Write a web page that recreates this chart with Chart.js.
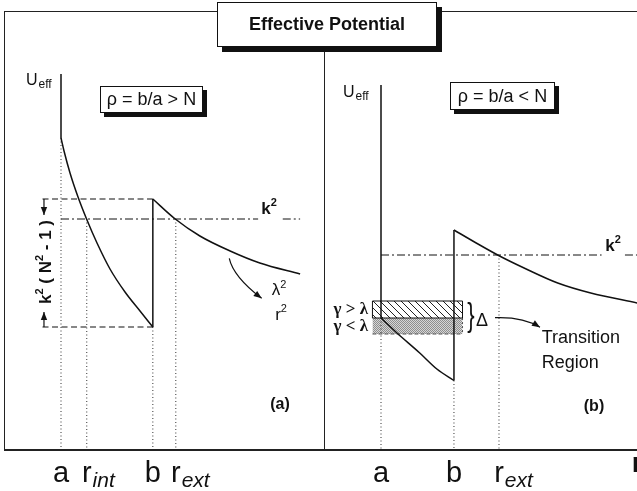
<!DOCTYPE html>
<html>
<head>
<meta charset="utf-8">
<script src="https://cdn.jsdelivr.net/npm/chart.js@4.4.1/dist/chart.umd.min.js"></script>
<style>
  html, body { margin: 0; padding: 0; background: #fff; }
  body { width: 637px; height: 491px; position: relative; overflow: hidden;
         font-family: 'Liberation Sans', Arial, Helvetica, sans-serif; color: #111; }
  canvas { position: absolute; top: 0; }
  #chartA { left: 5px; }
  #chartB { left: 324px; }
  .rule { position: absolute; background: #222; }
  .box { position: absolute; background: #fff; border: 1px solid #111; box-sizing: border-box;
         display: flex; align-items: center; justify-content: center; box-shadow: 4px 4px 0 #111; }
  #title { left: 217px; top: 2px; width: 220px; height: 45px; font-weight: bold; font-size: 18px;
           box-shadow: 5px 5px 0 #111; }
  .rho { font-size: 18px; }
</style>
</head>
<body>
<canvas id="chartA" width="319" height="491"></canvas>
<canvas id="chartB" width="313" height="491"></canvas>

<div class="rule" style="left:4px; top:11px; width:633px; height:1px"></div>
<div class="rule" style="left:4px; top:11px; width:1px; height:439px"></div>
<div class="rule" style="left:4px; top:449px; width:633px; height:2px"></div>
<div class="rule" style="left:324px; top:47px; width:1px; height:403px"></div>

<div id="title" class="box">Effective Potential</div>
<div class="box rho" style="left:100px; top:86px; width:103px; height:27px">ρ = b/a &gt; N</div>
<div class="box rho" style="left:450px; top:82px; width:105px; height:28px">ρ = b/a &lt; N</div>

<script>
// r is measured in units of a, U in arbitrary units (0 on the bottom axis)

// panel (a): rho = b/a > N
const tickNamesA = ['a', 'r', 'b', 'r'];
const tickSubsA = ['', 'int', '', 'ext'];
const tickValuesA = [1.0, 1.46, 2.64, 3.05];
const wallUA = [3.75, 3.11];
const innerRA = [1.0, 1.054, 1.161, 1.304, 1.464, 1.643, 1.875, 2.143, 2.411, 2.64];
const innerUA = [3.11, 2.98, 2.76, 2.52, 2.29, 2.06, 1.80, 1.57, 1.38, 1.22];
const outerRA = [2.64, 3.04, 3.48, 4.02, 4.55, 5.27];
const outerUA = [2.50, 2.30, 2.13, 1.98, 1.86, 1.75];
const k2A = 2.30;

// panel (b): rho = b/a < N
const tickNamesB = ['a', 'b', 'r'];
const tickSubsB = ['', '', 'ext'];
const tickValuesB = [1.0, 2.28, 3.07];
const wallUB = [3.64, 1.31];
const innerRB = [1.0, 1.28, 1.68, 1.98, 2.28];
const innerUB = [1.31, 1.16, 0.96, 0.80, 0.685];
const outerRB = [2.28, 2.64, 3.08, 3.51, 4.10, 4.68, 5.50];
const outerUB = [2.19, 2.07, 1.93, 1.81, 1.66, 1.56, 1.46];
const k2B = 1.94;
// transition region: hatched (gamma > lambda) over grey (gamma < lambda)
const bandR = [0.85, 2.43];
const bandU = [1.48, 1.31, 1.15];

const SANS = "'Liberation Sans', Arial, Helvetica, sans-serif";
const SERIF = "'Liberation Serif', 'Times New Roman', serif";
const INK = '#111';

function pairs(rs, us) {
  return rs.map((r, i) => ({ x: r, y: us[i] }));
}

function seg(points, style) {
  return Object.assign({
    data: points, showLine: true, borderColor: INK, borderWidth: 1.5,
    pointRadius: 0, fill: false, tension: 0
  }, style || {});
}

const dotted = { borderWidth: 1, borderColor: '#333', borderDash: [1, 2.5] };
const dashDot = { borderWidth: 1, borderDash: [8, 3, 2, 3] };
const dashed = { borderWidth: 1.2, borderDash: [6, 3.5] };
const smooth = { cubicInterpolationMode: 'monotone' };

// superscript run
const sup = (text, font, dy) => ({ text: text, font: font, dy: dy });

function tickNotes(names, subs, values) {
  return names.map((n, i) => ({
    x: values[i], y: -0.33, align: 'center', centerFirst: true, baseline: 'alphabetic',
    runs: [{ text: n, font: `29px ${SANS}` }, { text: subs[i], font: `italic 21px ${SANS}`, dy: 5, pre: 1 }]
  }));
}

function drawNote(ctx, px, py, t) {
  ctx.save();
  ctx.translate(px, py);
  if (t.rotate) ctx.rotate(t.rotate);
  if (t.scaleY) ctx.scale(1, t.scaleY);
  ctx.textBaseline = t.baseline || 'middle';
  ctx.textAlign = 'left';
  const runs = t.runs || [{ text: t.text, font: t.font }];
  const widths = runs.map(r => {
    ctx.font = r.font || t.font;
    return ctx.measureText(r.text).width + (r.pre || 0);
  });
  const total = widths.reduce((s, w) => s + w, 0);
  const ref = t.centerFirst ? widths[0] : total;
  let x = t.align === 'center' ? -ref / 2 : t.align === 'right' ? -total : 0;
  runs.forEach((r, i) => {
    ctx.font = r.font || t.font;
    ctx.fillText(r.text, x + (r.pre || 0), r.dy || 0);
    x += widths[i];
  });
  ctx.restore();
}

function drawArrow(ctx, p0, c, p1) {
  ctx.beginPath();
  ctx.moveTo(p0[0], p0[1]);
  if (c) ctx.quadraticCurveTo(c[0], c[1], p1[0], p1[1]);
  else ctx.lineTo(p1[0], p1[1]);
  ctx.stroke();
  const from = c || p0;
  const ang = Math.atan2(p1[1] - from[1], p1[0] - from[0]);
  const len = 8, half = 3.2;
  const bx = p1[0] - len * Math.cos(ang), by = p1[1] - len * Math.sin(ang);
  ctx.beginPath();
  ctx.moveTo(p1[0], p1[1]);
  ctx.lineTo(bx + half * Math.sin(ang), by - half * Math.cos(ang));
  ctx.lineTo(bx - half * Math.sin(ang), by + half * Math.cos(ang));
  ctx.closePath();
  ctx.fill();
}

const notesPlugin = {
  id: 'notes',
  afterDatasetsDraw(chart, args, opts) {
    const { ctx } = chart;
    const sx = chart.scales.x, sy = chart.scales.y;
    const P = p => [sx.getPixelForValue(p[0]), sy.getPixelForValue(p[1])];
    ctx.save();
    ctx.fillStyle = INK;
    ctx.strokeStyle = INK;
    ctx.lineWidth = 1.2;
    (opts.arrows || []).forEach(a => drawArrow(ctx, P(a.from), a.ctrl ? P(a.ctrl) : null, P(a.to)));
    (opts.texts || []).forEach(t => drawNote(ctx, sx.getPixelForValue(t.x), sy.getPixelForValue(t.y), t));
    ctx.restore();
  }
};

function makeChart(id, xMax, datasets, notes) {
  return new Chart(document.getElementById(id), {
    type: 'scatter',
    data: { datasets: datasets },
    options: {
      responsive: false,
      animation: false,
      layout: { padding: 0 },
      scales: {
        x: { type: 'linear', min: 0, max: xMax, display: false },
        y: { type: 'linear', min: -0.42, max: 4.49, display: false }
      },
      plugins: { legend: { display: false }, tooltip: { enabled: false }, notes: notes }
    },
    plugins: [notesPlugin]
  });
}

const B17 = `bold 17px ${SANS}`, B11 = `bold 11px ${SANS}`;
const R17 = `17px ${SANS}`, R11 = `11px ${SANS}`;

// ----- panel (a)
const aR = tickValuesA[0], bR = tickValuesA[2];
const lowA = innerUA[innerUA.length - 1], highA = outerUA[0];
const datasetsA = [
  seg([{ x: aR, y: wallUA[0] }, { x: aR, y: wallUA[1] }]),
  seg(pairs(innerRA, innerUA), smooth),
  seg([{ x: bR, y: lowA }, { x: bR, y: highA }]),
  seg(pairs(outerRA, outerUA), smooth),
  seg([{ x: aR, y: k2A }, { x: 4.52, y: k2A }], dashDot),
  seg([{ x: 4.96, y: k2A }, { x: outerRA[outerRA.length - 1], y: k2A }], dashDot),
  seg([{ x: 0.67, y: highA }, { x: bR, y: highA }], dashed),
  seg([{ x: 0.67, y: lowA }, { x: bR, y: lowA }], dashed),
  seg([{ x: aR, y: wallUA[1] }, { x: aR, y: 0 }], dotted),
  seg([{ x: tickValuesA[1], y: k2A }, { x: tickValuesA[1], y: 0 }], dotted),
  seg([{ x: bR, y: lowA }, { x: bR, y: 0 }], dotted),
  seg([{ x: tickValuesA[3], y: k2A }, { x: tickValuesA[3], y: 0 }], dotted)
];

const notesA = {
  arrows: [
    { from: [0.696, highA], to: [0.696, 2.34] },
    { from: [0.696, lowA], to: [0.696, 1.37] },
    { from: [4.005, 1.907], ctrl: [4.077, 1.723], to: [4.583, 1.507] }
  ],
  texts: [
    { x: 0.375, y: 3.64, baseline: 'alphabetic',
      runs: [{ text: 'U', font: `16px ${SANS}` }, { text: 'eff', font: `12px ${SANS}`, dy: 3, pre: 1 }] },
    { x: 4.714, y: 2.40, align: 'center', runs: [{ text: 'k', font: B17 }, sup('2', B11, -6)] },
    { x: 4.893, y: 1.585, align: 'center', runs: [{ text: 'λ', font: R17 }, sup('2', R11, -6)] },
    { x: 4.929, y: 1.34, align: 'center', runs: [{ text: 'r', font: R17 }, sup('2', R11, -6)] },
    { x: 4.91, y: 0.44, text: '(a)', align: 'center', font: `bold 16px ${SANS}` },
    { x: 0.821, y: 1.87, align: 'center', baseline: 'alphabetic', rotate: -Math.PI / 2,
      runs: [{ text: 'k', font: B17 }, sup('2', B11, -8), { text: ' ( N', font: B17 },
             sup('2', B11, -8), { text: ' - 1 )', font: B17 }] }
  ].concat(tickNotes(tickNamesA, tickSubsA, tickValuesA))
};

makeChart('chartA', 319 / 56, datasetsA, notesA);

// ----- panel (b)
const ctxB = document.getElementById('chartB').getContext('2d');

const hatchTile = document.createElement('canvas');
hatchTile.width = 7; hatchTile.height = 7;
const hg = hatchTile.getContext('2d');
hg.strokeStyle = '#222';
hg.lineWidth = 1;
hg.beginPath();
hg.moveTo(-1, -1); hg.lineTo(8, 8);
hg.moveTo(-1, 6); hg.lineTo(1, 8);
hg.moveTo(6, -1); hg.lineTo(8, 1);
hg.stroke();

const greyTile = document.createElement('canvas');
greyTile.width = 2; greyTile.height = 2;
const gg = greyTile.getContext('2d');
gg.fillStyle = '#d6d6d6'; gg.fillRect(0, 0, 2, 2);
gg.fillStyle = '#8e8e8e'; gg.fillRect(0, 0, 1, 1); gg.fillRect(1, 1, 1, 1);

const aRB = tickValuesB[0], bRB = tickValuesB[1], extRB = tickValuesB[2];
const lowB = innerUB[innerUB.length - 1];
const datasetsB = [
  seg([{ x: aRB, y: wallUB[0] }, { x: aRB, y: wallUB[1] }]),
  seg(pairs(innerRB, innerUB), smooth),
  seg([{ x: bRB, y: lowB }, { x: bRB, y: outerUB[0] }]),
  seg(pairs(outerRB, outerUB), smooth),
  seg([{ x: aRB, y: k2B }, { x: 4.87, y: k2B }], dashDot),
  seg([{ x: 5.28, y: k2B }, { x: 5.6, y: k2B }], dashDot),
  seg([{ x: bandR[0], y: bandU[1] }, { x: bandR[0], y: bandU[0] }, { x: bandR[1], y: bandU[0] },
       { x: bandR[1], y: bandU[1] }, { x: bandR[0], y: bandU[1] }], { borderWidth: 1 }),
  seg([{ x: bandR[0], y: bandU[2] }, { x: bandR[1], y: bandU[2] }],
      { borderWidth: 1, borderColor: '#555', borderDash: [4, 2] }),
  seg([{ x: bandR[1], y: bandU[1] }, { x: bandR[1], y: bandU[2] }],
      { borderWidth: 1, borderColor: '#555', borderDash: [2, 2] }),
  seg([{ x: aRB, y: wallUB[1] }, { x: aRB, y: 0 }], dotted),
  seg([{ x: bRB, y: lowB }, { x: bRB, y: 0 }], dotted),
  seg([{ x: extRB, y: k2B }, { x: extRB, y: 0 }], dotted),
  seg([{ x: bandR[0], y: bandU[0] }, { x: bandR[1], y: bandU[0] }],
      { borderWidth: 0, fill: { value: bandU[1] }, backgroundColor: ctxB.createPattern(hatchTile, 'repeat') }),
  seg([{ x: bandR[0], y: bandU[1] }, { x: bandR[1], y: bandU[1] }],
      { borderWidth: 0, fill: { value: bandU[2] }, backgroundColor: ctxB.createPattern(greyTile, 'repeat') })
];

const notesB = {
  arrows: [
    { from: [3.0, 1.313], ctrl: [3.496, 1.323], to: [3.789, 1.217] }
  ],
  texts: [
    { x: 0.333, y: 3.52, baseline: 'alphabetic',
      runs: [{ text: 'U', font: `16px ${SANS}` }, { text: 'eff', font: `12px ${SANS}`, dy: 3, pre: 1 }] },
    { x: 5.07, y: 2.03, align: 'center', runs: [{ text: 'k', font: B17 }, sup('2', B11, -6)] },
    { x: 0.772, y: 1.39, text: 'γ > λ', align: 'right', font: `bold 17px ${SERIF}` },
    { x: 0.772, y: 1.22, text: 'γ < λ', align: 'right', font: `bold 17px ${SERIF}` },
    { x: 2.579, y: 1.32, text: '}', align: 'center', scaleY: 1.55, font: `22px ${SANS}` },
    { x: 2.772, y: 1.28, text: 'Δ', align: 'center', font: `18px ${SANS}` },
    { x: 3.82, y: 1.107, text: 'Transition', font: `18px ${SANS}` },
    { x: 3.82, y: 0.857, text: 'Region', font: `18px ${SANS}` },
    { x: 4.737, y: 0.42, text: '(b)', align: 'center', font: `bold 16px ${SANS}` },
    { x: 5.40, y: -0.23, text: 'r', baseline: 'alphabetic', font: `bold 28px ${SANS}` }
  ].concat(tickNotes(tickNamesB, tickSubsB, tickValuesB))
};

makeChart('chartB', 313 / 57, datasetsB, notesB);
</script>
</body>
</html>
